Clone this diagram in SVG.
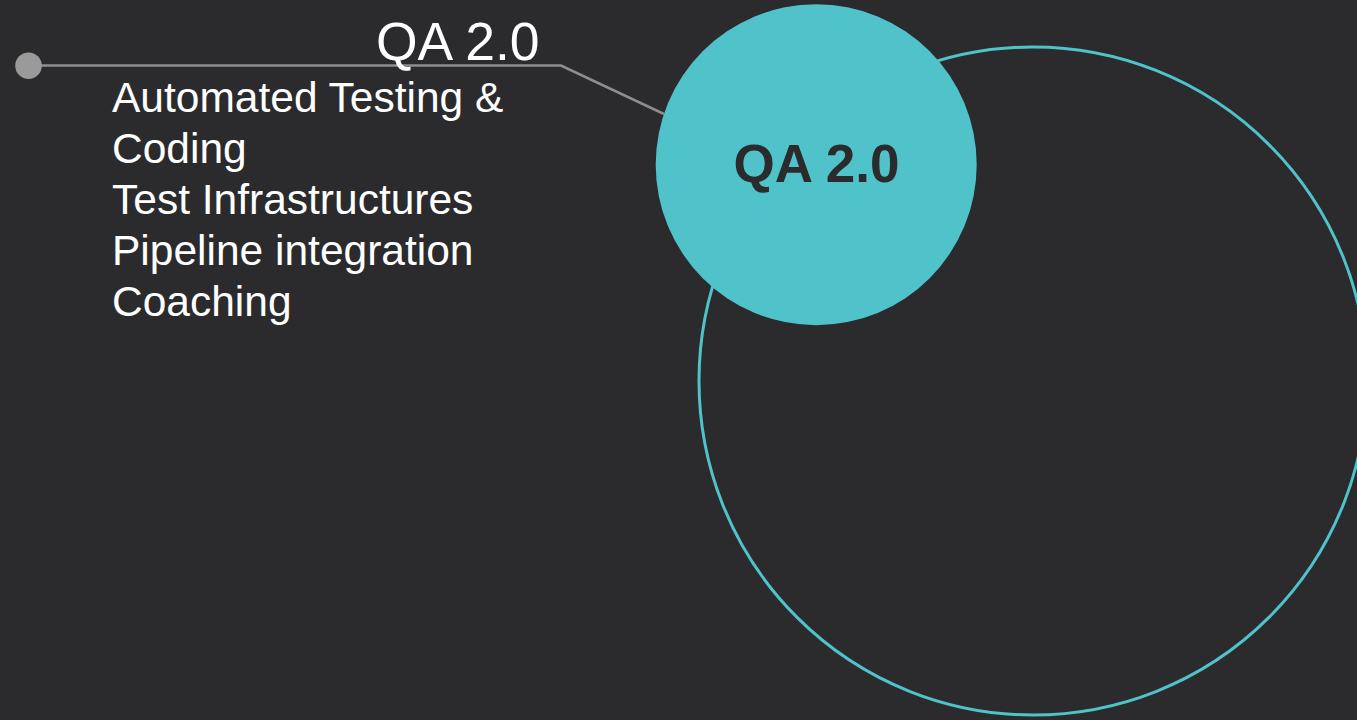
<svg xmlns="http://www.w3.org/2000/svg" width="1357" height="720" viewBox="0 0 1357 720">
<style>
.lbl{font-family:"Liberation Sans",Arial,sans-serif;fill:#ffffff}
.body{font-size:42.5px}
.title{font-size:53.5px}
.center{font-family:"Liberation Sans",Arial,sans-serif;font-weight:bold;font-size:53px;fill:#2b2b2e}
</style>
<rect width="1357" height="720" fill="#2b2b2e"/>
<g id="outer-circle">
<circle cx="1033" cy="381" r="334" fill="none" stroke="#4fc3c9" stroke-width="3"/>
</g>
<g id="connectors">
<polyline points="28,65.5 561,65.5 664,114" fill="none" stroke="#8e8e8e" stroke-width="2.5"/>
<circle cx="28.5" cy="65.7" r="13.3" fill="#9a9a9a"/>
</g>
<g id="label">
<text class="lbl title" x="376" y="60">QA 2.0</text>
<text class="lbl body" x="112" y="112">Automated Testing &amp;</text>
<text class="lbl body" x="112" y="163">Coding</text>
<text class="lbl body" x="112" y="214">Test Infrastructures</text>
<text class="lbl body" x="112" y="265">Pipeline integration</text>
<text class="lbl body" x="112" y="316">Coaching</text>
</g>
<g id="qa-node">
<circle cx="816.2" cy="164.7" r="160.5" fill="#4fc3c9"/>
<text class="center" x="816.5" y="182" text-anchor="middle">QA 2.0</text>
</g>
</svg>
